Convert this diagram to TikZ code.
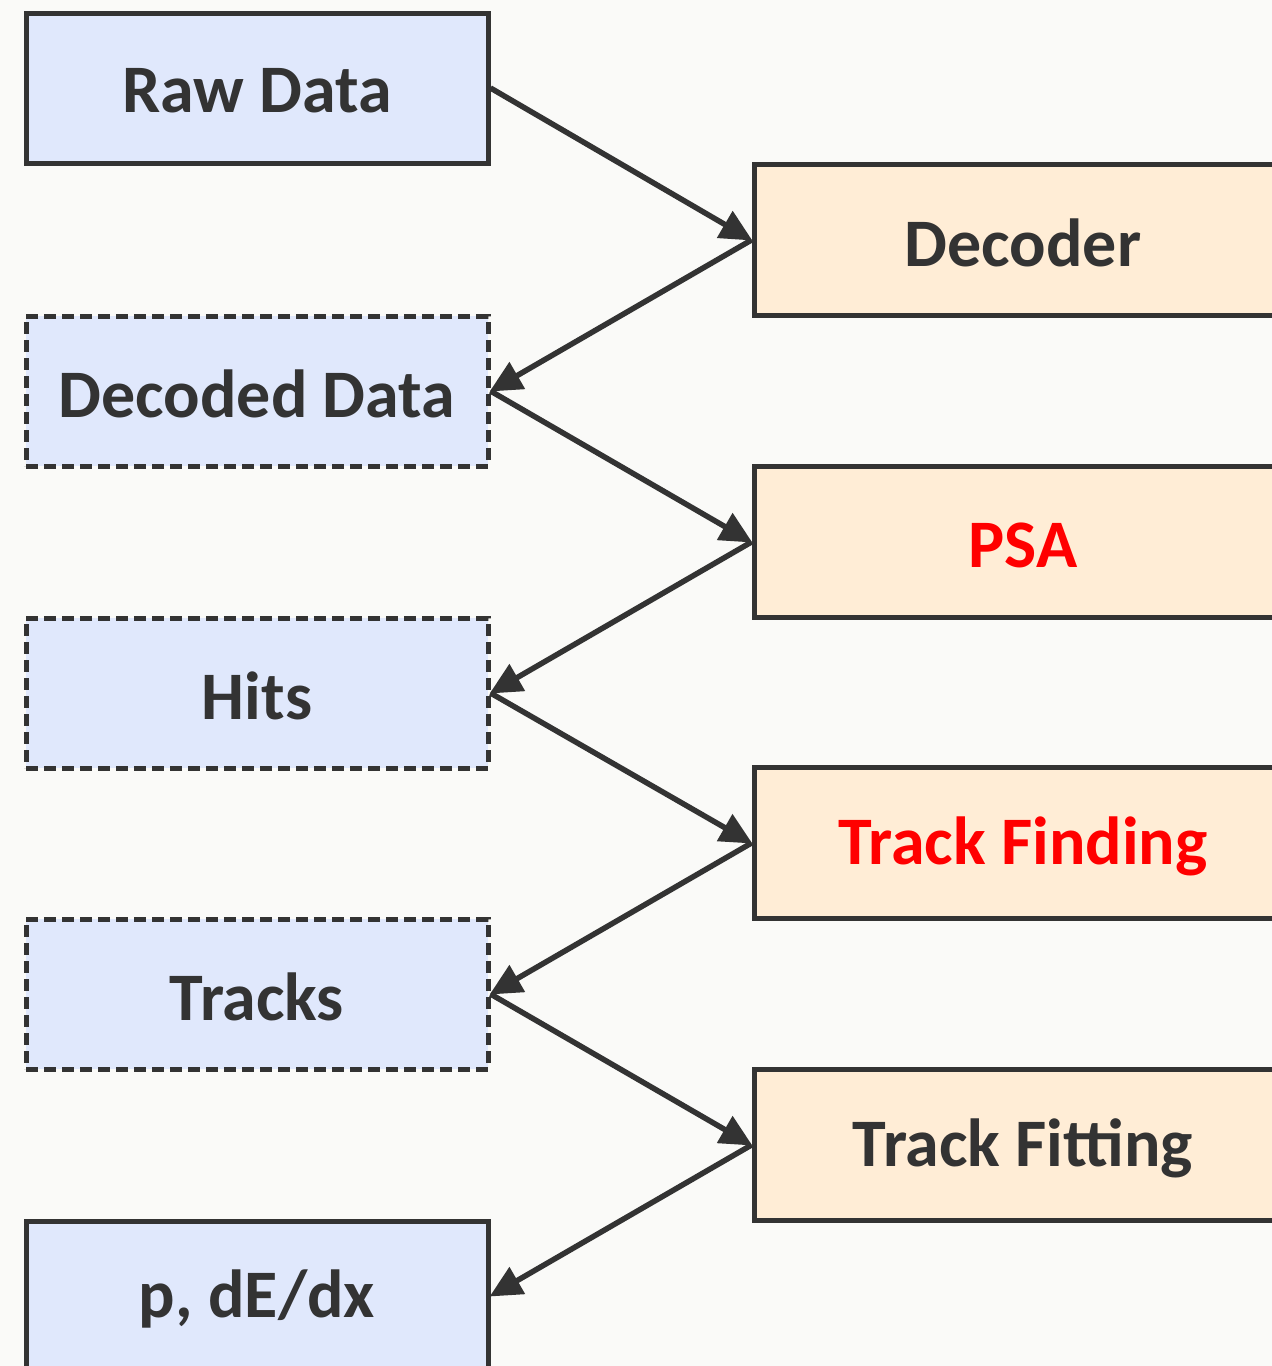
\documentclass[tikz,border=0pt]{standalone}
\usepackage{fontspec}
\setmainfont{Carlito}
\usetikzlibrary{arrows.meta}
\definecolor{bgc}{HTML}{FAFAF8}
\definecolor{linec}{HTML}{333333}
\definecolor{bluef}{HTML}{E0E8FC}
\definecolor{orangef}{HTML}{FFEDD6}
\definecolor{redt}{HTML}{FF0000}
\newcommand{\lowered}[1]{\raisebox{-3pt}[\height][\depth]{#1}}
\tikzset{
  databox/.style={draw=linec, fill=bluef, line width=5pt, minimum width=462pt, minimum height=150pt, inner sep=0pt, text=linec, font=\bfseries\fontsize{68}{80}\selectfont},
  dashbox/.style={databox, line width=5pt, dash pattern=on 12pt off 6pt},
  procbox/.style={draw=linec, fill=orangef, line width=5pt, minimum width=538pt, minimum height=151pt, inner sep=0pt, text=linec, font=\bfseries\fontsize{68}{80}\selectfont},
  flow/.style={draw=linec, line width=5.5pt, -{Triangle[length=32pt,width=30pt]}, shorten >=-1pt}
}
\begin{document}
\begin{tikzpicture}[x=1pt,y=-1pt]
\useasboundingbox (0,0) rectangle (1272,1366);
\clip (0,0) rectangle (1272,1366);
\fill[bgc] (0,0) rectangle (1272,1366);
\node[databox] (raw) at (257,88) {\lowered{Raw Data}};
\node[dashbox] (decd) at (257,391) {\lowered{Decoded Data}};
\node[dashbox] (hits) at (257,693) {\lowered{Hits}};
\node[dashbox] (tracks) at (257,994) {\lowered{Tracks}};
\node[databox] (pde) at (257,1296) {\lowered{p, dE/dx}};
\node[procbox] (dec) at (1023,240) {\lowered{Decoder}};
\node[procbox, text=redt] (psa) at (1023,542) {\lowered{PSA}};
\node[procbox, text=redt] (tf) at (1023,843) {\lowered{Track Finding}};
\node[procbox] (tfit) at (1023,1145) {\lowered{Track Fitting}};
\draw[flow] (raw.east) -- (dec.west);
\draw[flow] (dec.west) -- (decd.east);
\draw[flow] (decd.east) -- (psa.west);
\draw[flow] (psa.west) -- (hits.east);
\draw[flow] (hits.east) -- (tf.west);
\draw[flow] (tf.west) -- (tracks.east);
\draw[flow] (tracks.east) -- (tfit.west);
\draw[flow] (tfit.west) -- (pde.east);
\end{tikzpicture}
\end{document}
